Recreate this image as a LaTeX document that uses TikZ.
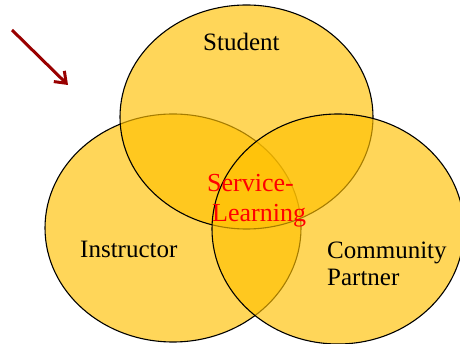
\documentclass[tikz,border=0pt]{standalone}
\usepackage{fontspec}
\setmainfont{Liberation Serif}
\usetikzlibrary{arrows.meta}
\definecolor{vfill}{HTML}{FFC000}
\definecolor{arrowred}{HTML}{990000}
\begin{document}
\begin{tikzpicture}[x=1pt,y=-1pt,
  setell/.style={fill=vfill, fill opacity=0.65, draw=black, draw opacity=1, line width=1.1pt},
  lbl/.style={font=\fontsize{25}{27}\selectfont, text=black, inner sep=0pt},
  slbl/.style={font=\fontsize{26}{30}\selectfont, text=red, inner sep=0pt}]
\useasboundingbox (0,0) rectangle (460,344);
% circles: left (instructor), top (student), right (community)
\path[setell] (173,228) ellipse [x radius=128, y radius=114];
\path[setell] (246.5,117) ellipse [x radius=126.5, y radius=112];
\path[setell] (338,229) ellipse [x radius=126, y radius=115];
% arrow
\coordinate (a1) at (12,30);
\coordinate (a2) at (68,85);
\draw[arrowred, line width=3pt, -{Straight Barb[length=10pt,width=15pt]}] (a1) -- (a2);
% labels
\node[lbl, anchor=base west] (student) at (203,51) {Student};
\node[lbl, anchor=base west] (instructor) at (80,258) {Instructor};
\node[lbl, anchor=north west, align=left] (community) at (327,242) {Community\\Partner};
\node[slbl, anchor=north west, align=left] (sl) at (207,174) {Service-\\\hspace*{5pt}Learning};
\end{tikzpicture}
\end{document}
